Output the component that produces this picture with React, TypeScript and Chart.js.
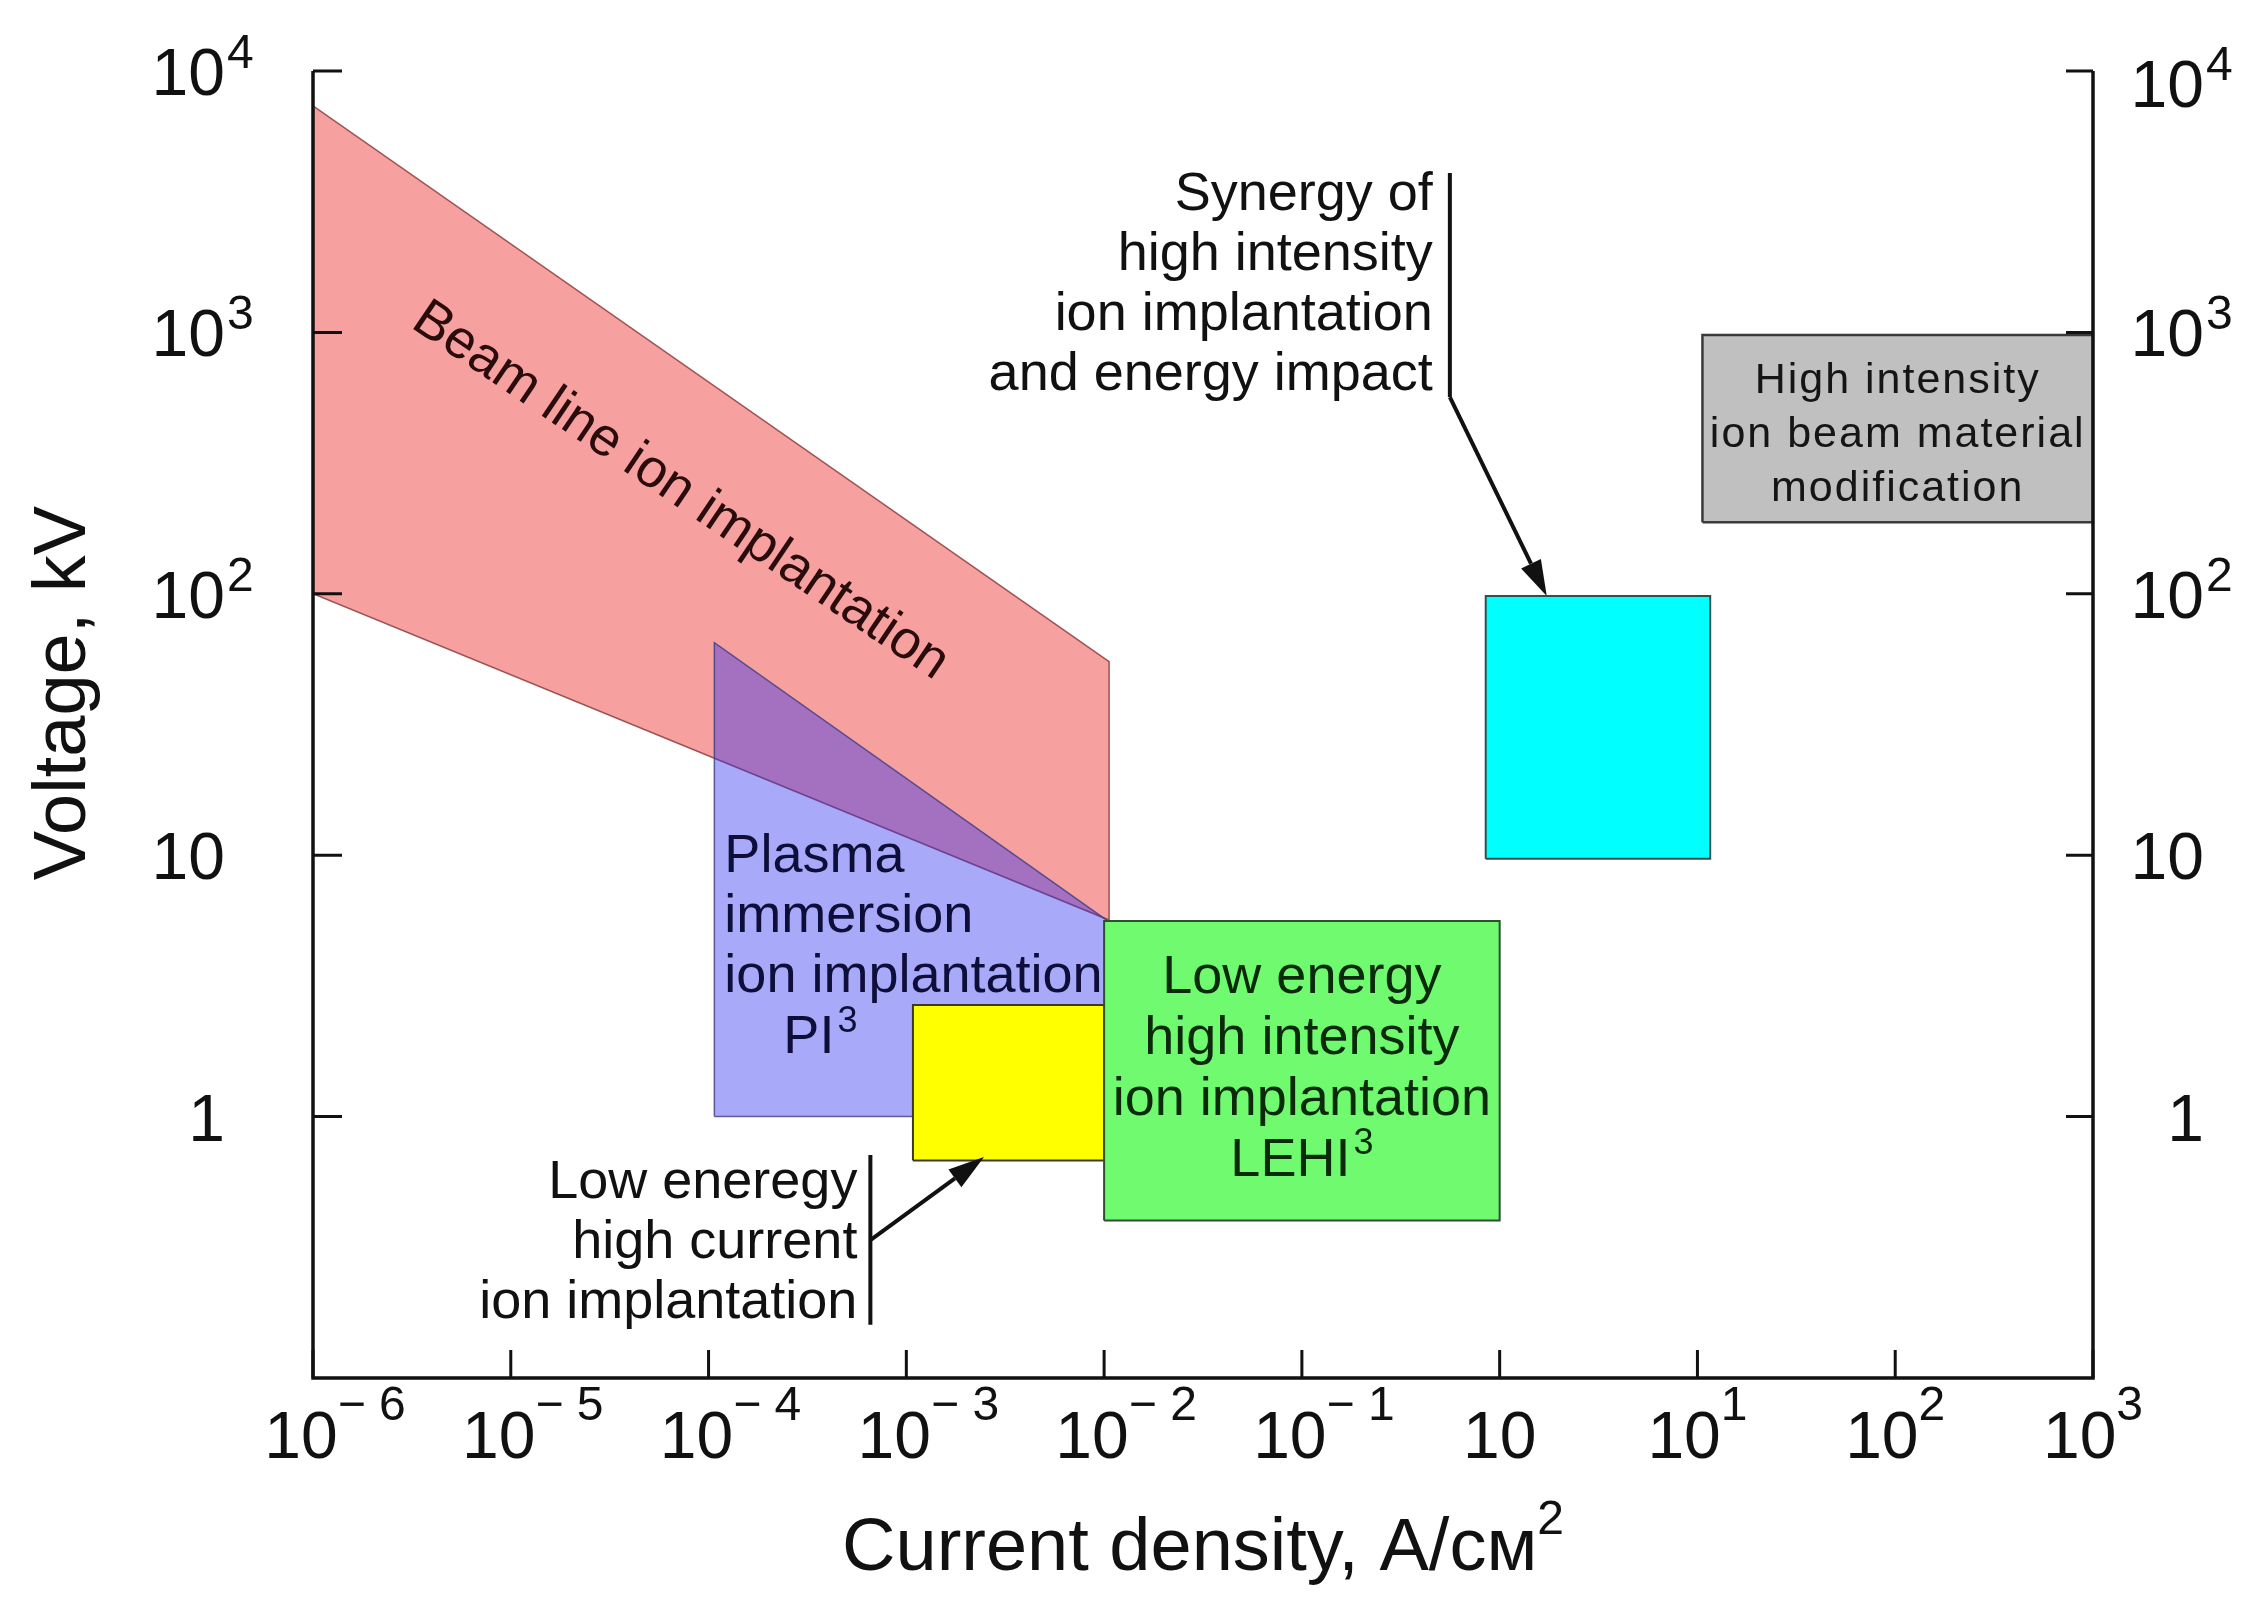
import React, { useEffect, useRef } from "react";
import { Chart, registerables } from "chart.js";

Chart.register(...registerables);

const CANVAS_W = 2263;
const CANVAS_H = 1603;
const FONT = '"Liberation Sans", Arial, Helvetica, sans-serif';

// ---- axes ----
const X_MIN = 1e-6;
const X_MAX = 1e3;
const Y_MIN = 0.1;
const Y_MAX = 1e4;

const xTickValues = [1e-6, 1e-5, 1e-4, 1e-3, 1e-2, 1e-1, 1, 10, 100, 1000];
const xTickBases = ["10", "10", "10", "10", "10", "10", "10", "10", "10", "10"];
const xTickExps = ["\u2212 6", "\u2212 5", "\u2212 4", "\u2212 3", "\u2212 2", "\u2212 1", "", "1", "2", "3"];

const yTickValues = [1, 10, 100, 1000, 10000];
const yTickBases = ["1", "10", "10", "10", "10"];
const yTickExps = ["", "", "2", "3", "4"];

const xAxisTitle = "Current density, A/\u0441\u043c";
const xAxisTitleSup = "2";
const yAxisTitle = "Voltage, kV";

// ---- regions (x: current density, y: voltage kV) ----
const beamLineX = [1e-6, 1.06e-2, 1.06e-2, 1e-6];
const beamLineY = [7350, 55, 5.65, 100];

const plasmaX = [1.07e-4, 1.07e-4, 1.03e-2, 1.03e-2];
const plasmaY = [1, 65, 5.65, 1];

const lowCurrentX = [1.08e-3, 1.0e-2];
const lowCurrentY = [0.68, 2.67];

const lehiX = [1.0e-2, 1.0];
const lehiY = [0.4, 5.6];

const synergyX = [0.85, 11.6];
const synergyY = [9.7, 98];

const hiBeamX = [10.6, 1000];
const hiBeamY = [188, 977];

// ---- annotations (data coordinates) ----
const beamTextAt = [7.2e-5, 247];
const synergyBracketX = 0.56;
const synergyBracketY = [4075, 566];
const synergyArrowTip = [1.73, 98];
const lowBracketX = 6.58e-4;
const lowBracketY = [0.713, 0.16];
const lowArrowFromY = 0.337;
const lowArrowTip = [2.47e-3, 0.7];

const beamText = "Beam line ion implantation";
const plasmaLines = ["Plasma", "immersion", "ion implantation"];
const plasmaAbbr = ["PI", "3"];
const lehiLines = ["Low energy", "high intensity", "ion implantation"];
const lehiAbbr = ["LEHI", "3"];
const synergyLines = ["Synergy of", "high intensity", "ion implantation", "and energy impact"];
const lowLines = ["Low eneregy", "high current", "ion implantation"];
const hiBeamLines = ["High intensity", "ion beam material", "modification"];

const LABEL_SIZE = 54;

function poly(xs: number[], ys: number[]) {
  const pts = xs.map((x, i) => ({ x, y: ys[i] }));
  pts.push({ x: xs[0], y: ys[0] });
  return pts;
}
function rect(xs: number[], ys: number[]) {
  return [
    { x: xs[0], y: ys[0] },
    { x: xs[0], y: ys[1] },
    { x: xs[1], y: ys[1] },
    { x: xs[1], y: ys[0] },
    { x: xs[0], y: ys[0] },
  ];
}

function drawSup(
  ctx: CanvasRenderingContext2D,
  base: string,
  sup: string,
  x: number,
  y: number,
  align: "center" | "right" | "left",
  baseSize: number,
  supSize: number,
  rise: number,
  supGap = 0
) {
  ctx.font = `${baseSize}px ${FONT}`;
  const bw = ctx.measureText(base).width;
  ctx.font = `${supSize}px ${FONT}`;
  const sw = sup ? ctx.measureText(sup).width + supGap : 0;
  let left = x;
  if (align === "center") left = x - (bw + sw) / 2;
  else if (align === "right") left = x - bw;
  ctx.textAlign = "left";
  ctx.textBaseline = "alphabetic";
  ctx.font = `${baseSize}px ${FONT}`;
  ctx.fillText(base, left, y);
  if (sup) {
    ctx.font = `${supSize}px ${FONT}`;
    ctx.fillText(sup, left + bw + supGap, y - rise);
  }
}

function arrow(ctx: CanvasRenderingContext2D, x1: number, y1: number, x2: number, y2: number) {
  const headLen = 36;
  const headW = 11;
  const ang = Math.atan2(y2 - y1, x2 - x1);
  const bx = x2 - headLen * Math.cos(ang);
  const by = y2 - headLen * Math.sin(ang);
  ctx.beginPath();
  ctx.moveTo(x1, y1);
  ctx.lineTo(bx, by);
  ctx.stroke();
  ctx.beginPath();
  ctx.moveTo(x2, y2);
  ctx.lineTo(bx + headW * Math.sin(ang), by - headW * Math.cos(ang));
  ctx.lineTo(bx - headW * Math.sin(ang), by + headW * Math.cos(ang));
  ctx.closePath();
  ctx.fill();
}

const overlayPlugin = {
  id: "overlay",
  afterDatasetsDraw(chart: any) {
    const ctx: CanvasRenderingContext2D = chart.ctx;
    const xs = chart.scales.x;
    const ys = chart.scales.y;
    const px = (v: number) => xs.getPixelForValue(v);
    const py = (v: number) => ys.getPixelForValue(v);
    const { left, right, top, bottom } = chart.chartArea;

    ctx.save();
    // axes lines
    ctx.strokeStyle = "#111";
    ctx.fillStyle = "#111";
    ctx.lineWidth = 3.5;
    ctx.lineCap = "butt";
    ctx.beginPath();
    ctx.moveTo(left, top);
    ctx.lineTo(left, bottom);
    ctx.lineTo(right, bottom);
    ctx.lineTo(right, top);
    ctx.stroke();

    // ticks (inward)
    ctx.lineWidth = 3;
    ctx.beginPath();
    yTickValues.forEach((v) => {
      const y = py(v);
      ctx.moveTo(left, y);
      ctx.lineTo(left + 29, y);
      ctx.moveTo(right, y);
      ctx.lineTo(right - 27, y);
    });
    xTickValues.forEach((v) => {
      const x = px(v);
      ctx.moveTo(x, bottom);
      ctx.lineTo(x, bottom - 28);
    });
    ctx.stroke();

    // tick labels
    ctx.fillStyle = "#111";
    xTickValues.forEach((v, i) => {
      const neg = xTickExps[i].startsWith("\u2212");
      drawSup(ctx, xTickBases[i], xTickExps[i], px(v) + (neg ? 22 : 0), bottom + 80, "center", 66, 48, 38, 0);
    });
    yTickValues.forEach((v, i) => {
      const y = py(v) + 24;
      drawSup(ctx, yTickBases[i], yTickExps[i], left - 88, y, "right", 66, 48, 27, 2);
      drawSup(ctx, yTickBases[i], yTickExps[i], right + 111, y + (v === 10000 ? 12 : 0), "right", 66, 48, 27, 2);
    });

    // axis titles
    ctx.fillStyle = "#111";
    drawSup(ctx, xAxisTitle, xAxisTitleSup, (left + right) / 2, 1570, "center", 74, 48, 36, 0);
    ctx.save();
    ctx.translate(85, 693);
    ctx.rotate(-Math.PI / 2);
    ctx.font = `74px ${FONT}`;
    ctx.textAlign = "center";
    ctx.textBaseline = "alphabetic";
    ctx.fillText(yAxisTitle, 0, 0);
    ctx.restore();

    // beam line label (rotated)
    ctx.save();
    ctx.translate(px(beamTextAt[0]), py(beamTextAt[1]));
    ctx.rotate((34 * Math.PI) / 180);
    ctx.fillStyle = "#2a0c0c";
    ctx.font = `${LABEL_SIZE}px ${FONT}`;
    ctx.textAlign = "center";
    ctx.textBaseline = "middle";
    ctx.fillText(beamText, 0, 0);
    ctx.restore();

    // plasma label
    ctx.fillStyle = "#0e0e3a";
    const plLeft = px(plasmaX[0]) + 10;
    const plBase = py(10) + 17;
    plasmaLines.forEach((s, i) => {
      ctx.font = `${LABEL_SIZE}px ${FONT}`;
      ctx.textAlign = "left";
      ctx.fillText(s, plLeft, plBase + i * 60);
    });
    drawSup(ctx, plasmaAbbr[0], plasmaAbbr[1], plLeft + 59, plBase + 181, "left", LABEL_SIZE, 36, 21, 3);

    // LEHI label
    ctx.fillStyle = "#0b2a0b";
    const lCx = (px(lehiX[0]) + px(lehiX[1])) / 2;
    const lTop = py(lehiY[1]);
    lehiLines.forEach((s, i) => {
      ctx.font = `${LABEL_SIZE}px ${FONT}`;
      ctx.textAlign = "center";
      ctx.fillText(s, lCx, lTop + 72 + i * 61);
    });
    drawSup(ctx, lehiAbbr[0], lehiAbbr[1], lCx, lTop + 72 + 3 * 61, "center", LABEL_SIZE, 36, 22, 3);

    // high intensity ion beam label
    ctx.fillStyle = "#151515";
    const hCx = (px(hiBeamX[0]) + px(hiBeamX[1])) / 2;
    const hCy = (py(hiBeamY[0]) + py(hiBeamY[1])) / 2;
    ctx.font = `43px ${FONT}`;
    (ctx as any).letterSpacing = "2px";
    ctx.textAlign = "center";
    hiBeamLines.forEach((s, i) => {
      ctx.fillText(s, hCx, hCy + 18 + (i - 1) * 54);
    });
    (ctx as any).letterSpacing = "0px";

    // synergy annotation
    ctx.fillStyle = "#111";
    ctx.strokeStyle = "#111";
    ctx.lineWidth = 4;
    const sbx = px(synergyBracketX);
    const sbTop = py(synergyBracketY[0]);
    const sbBot = py(synergyBracketY[1]);
    ctx.beginPath();
    ctx.moveTo(sbx, sbTop);
    ctx.lineTo(sbx, sbBot);
    ctx.stroke();
    arrow(ctx, sbx, sbBot, px(synergyArrowTip[0]), py(synergyArrowTip[1]));
    synergyLines.forEach((s, i) => {
      ctx.font = `${LABEL_SIZE}px ${FONT}`;
      ctx.textAlign = "right";
      ctx.fillText(s, sbx - 17, sbTop + 37 + i * 60);
    });

    // low energy high current annotation
    const lbx = px(lowBracketX);
    const lbTop = py(lowBracketY[0]);
    const lbBot = py(lowBracketY[1]);
    ctx.beginPath();
    ctx.moveTo(lbx, lbTop);
    ctx.lineTo(lbx, lbBot);
    ctx.stroke();
    arrow(ctx, lbx, py(lowArrowFromY), px(lowArrowTip[0]), py(lowArrowTip[1]));
    lowLines.forEach((s, i) => {
      ctx.font = `${LABEL_SIZE}px ${FONT}`;
      ctx.textAlign = "right";
      ctx.fillText(s, lbx - 13, lbTop + 43 + i * 60);
    });

    ctx.restore();
  },
};

const whiteBg = {
  id: "whiteBg",
  beforeDraw(chart: any) {
    const ctx = chart.ctx;
    ctx.save();
    ctx.fillStyle = "#ffffff";
    ctx.fillRect(0, 0, chart.width, chart.height);
    ctx.restore();
  },
};

export default function App() {
  const ref = useRef<HTMLCanvasElement | null>(null);
  useEffect(() => {
    if (!ref.current) return;
    const common = {
      showLine: true,
      pointRadius: 0,
      pointHoverRadius: 0,
      tension: 0,
      fill: "shape",
    };
    const chart = new Chart(ref.current, {
      type: "scatter",
      data: {
        datasets: [
          {
            ...common,
            label: "Beam line ion implantation",
            data: poly(beamLineX, beamLineY),
            backgroundColor: "rgb(247,160,160)",
            borderColor: "rgba(140,60,60,0.85)",
            borderWidth: 1.5,
            order: 6,
          },
          {
            ...common,
            label: "Plasma immersion ion implantation PI3",
            data: poly(plasmaX, plasmaY),
            backgroundColor: "rgba(40,40,240,0.4)",
            borderColor: "rgba(60,60,130,0.8)",
            borderWidth: 1.5,
            order: 5,
          },
          {
            ...common,
            label: "Low energy high current ion implantation",
            data: rect(lowCurrentX, lowCurrentY),
            backgroundColor: "#ffff00",
            borderColor: "#3a3a20",
            borderWidth: 2,
            order: 4,
          },
          {
            ...common,
            label: "LEHI3",
            data: rect(lehiX, lehiY),
            backgroundColor: "rgb(112,250,112)",
            borderColor: "#2f4f2f",
            borderWidth: 2,
            order: 3,
          },
          {
            ...common,
            label: "Synergy",
            data: rect(synergyX, synergyY),
            backgroundColor: "#00ffff",
            borderColor: "#2f5050",
            borderWidth: 2,
            order: 2,
          },
          {
            ...common,
            label: "High intensity ion beam material modification",
            data: rect(hiBeamX, hiBeamY),
            backgroundColor: "#c0c0c0",
            borderColor: "#3a3a3a",
            borderWidth: 2.5,
            order: 1,
          },
        ] as any,
      },
      options: {
        animation: false,
        responsive: false,
        devicePixelRatio: 1,
        events: [],
        layout: { padding: { left: 313, right: CANVAS_W - 2093, top: 71, bottom: CANVAS_H - 1378 } },
        plugins: {
          legend: { display: false },
          title: { display: false },
          tooltip: { enabled: false },
        },
        scales: {
          x: { type: "logarithmic", min: X_MIN, max: X_MAX, display: false },
          y: { type: "logarithmic", min: Y_MIN, max: Y_MAX, display: false },
        },
      } as any,
      plugins: [whiteBg, overlayPlugin],
    });
    return () => chart.destroy();
  }, []);

  return (
    <div style={{ position: "absolute", left: 0, top: 0, width: CANVAS_W, height: CANVAS_H, background: "#fff" }}>
      <canvas ref={ref} width={CANVAS_W} height={CANVAS_H} style={{ width: CANVAS_W, height: CANVAS_H, display: "block" }} />
    </div>
  );
}
